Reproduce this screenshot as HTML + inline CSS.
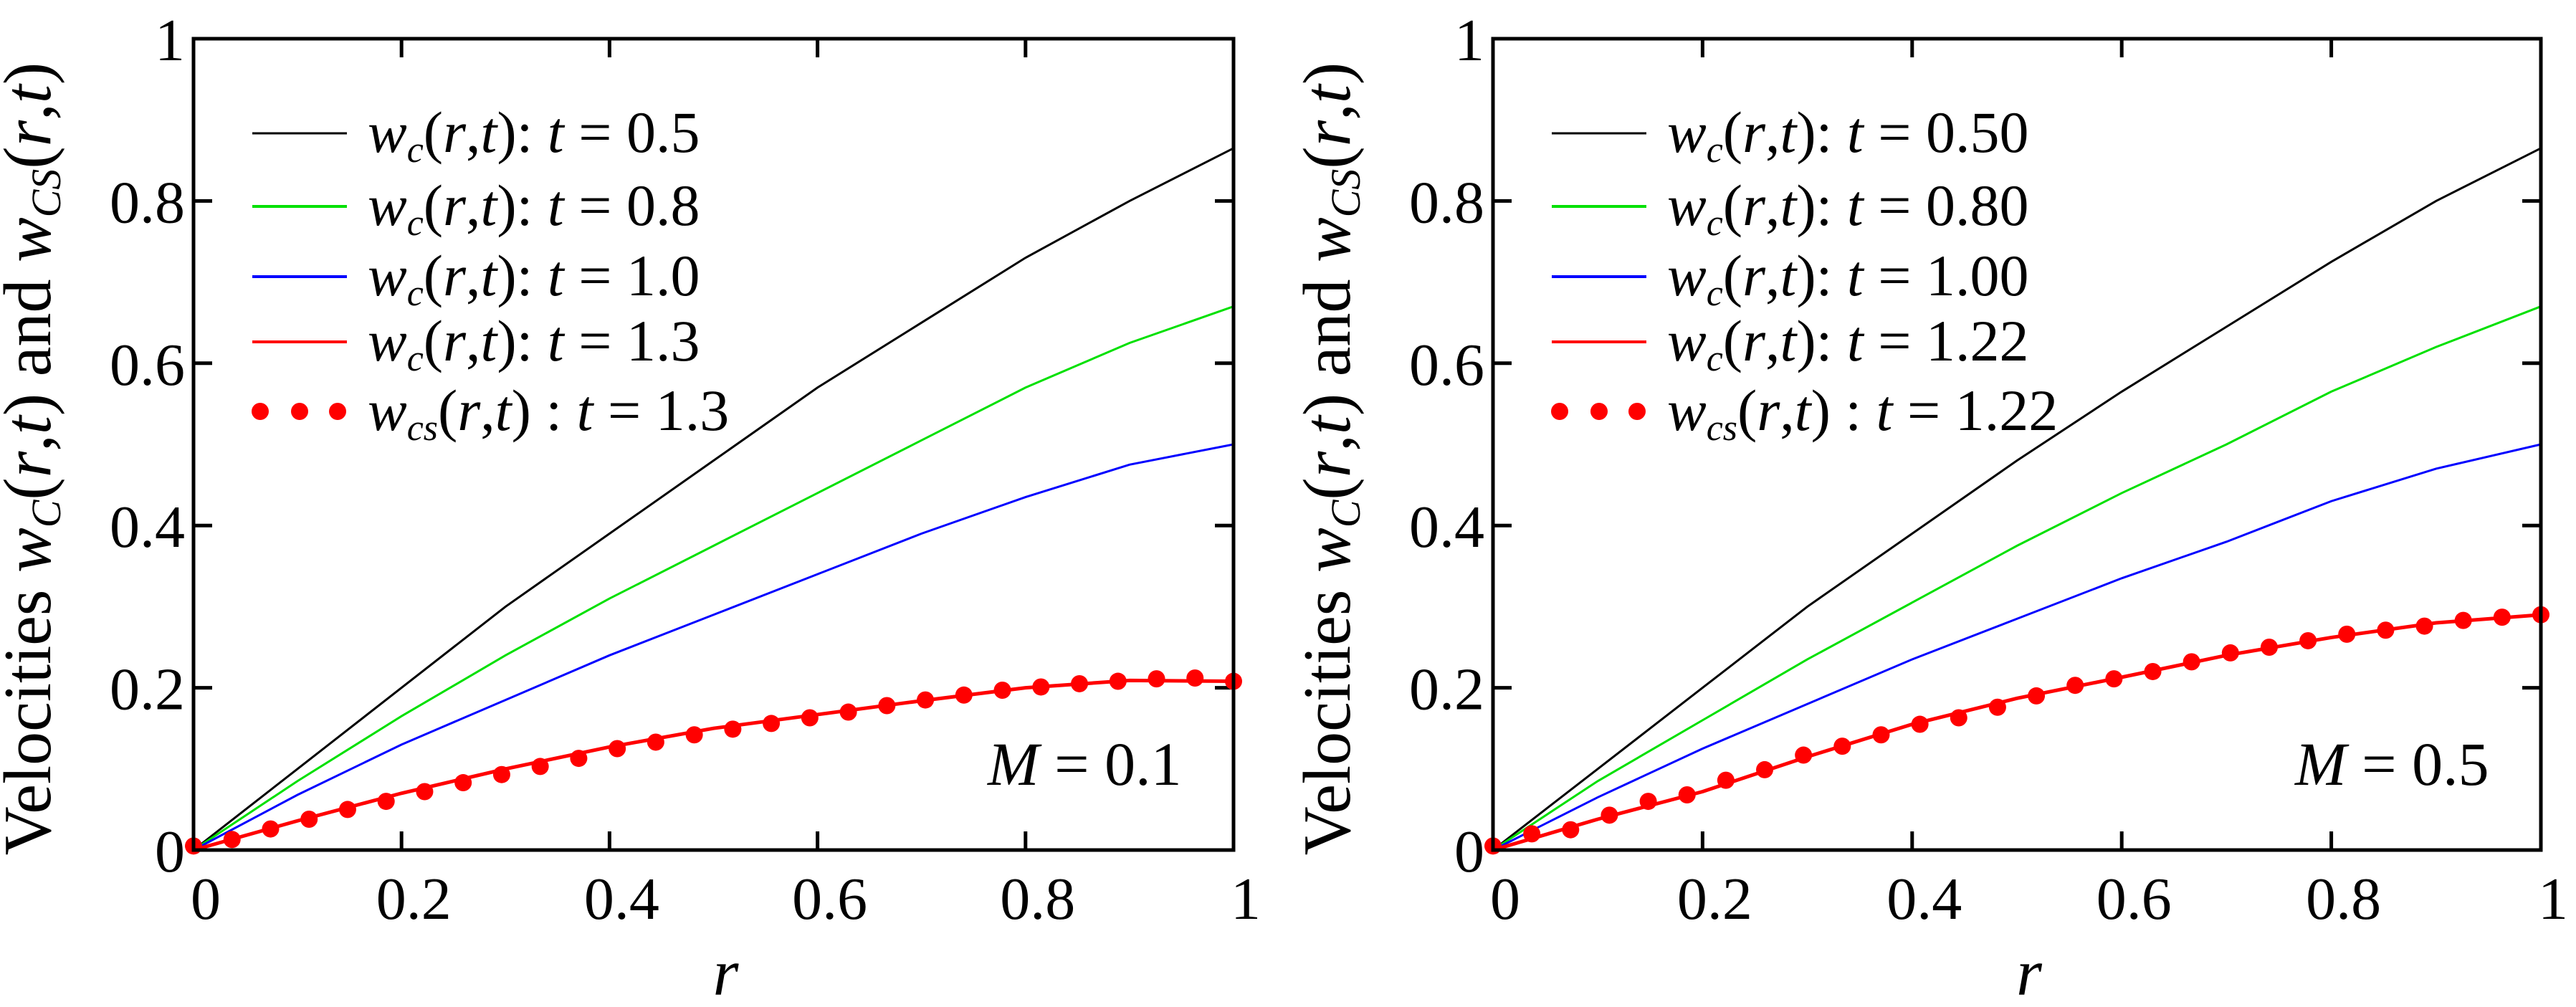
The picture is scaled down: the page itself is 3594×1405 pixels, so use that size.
<!DOCTYPE html>
<html><head><meta charset="utf-8"><style>
html,body{margin:0;padding:0;background:#fff}
svg{display:block}
svg text, svg tspan{font-family:"Liberation Serif","Noto Serif CJK SC","DejaVu Serif",serif !important;fill:#000}
</style></head><body>
<svg id="s" width="3594" height="1405" viewBox="0 0 3594 1405" xmlns="http://www.w3.org/2000/svg" style="font-family:'Liberation Serif','Noto Serif CJK SC','DejaVu Serif',serif"></svg>
<script>
const rGrid=[0,0.1,0.2,0.3,0.4,0.5,0.6,0.7,0.8,0.9,1.0];
const ticks=[0,0.2,0.4,0.6,0.8,1];
const tickLabels=["0","0.2","0.4","0.6","0.8","1"];
// left panel M=0.1
const L_black=[0,0.1,0.2,0.3,0.39,0.48,0.57,0.65,0.73,0.80,0.865];
const L_green=[0,0.085,0.165,0.24,0.31,0.375,0.44,0.505,0.57,0.625,0.67];
const L_blue=[0,0.068,0.13,0.185,0.24,0.29,0.34,0.39,0.435,0.475,0.50];
const L_red=[0,0.036,0.07,0.1,0.127,0.15,0.167,0.184,0.2,0.209,0.208];
const L_dots=[0.005,0.013,0.026,0.038,0.05,0.06,0.072,0.083,0.093,0.103,0.113,0.125,0.133,0.142,0.149,0.156,0.163,0.17,0.178,0.185,0.191,0.197,0.201,0.205,0.208,0.211,0.212,0.208];
// right panel M=0.5
const R_black=[0,0.1,0.2,0.3,0.39,0.48,0.565,0.645,0.725,0.8,0.865];
const R_green=[0,0.085,0.16,0.235,0.305,0.375,0.44,0.5,0.565,0.62,0.67];
const R_blue=[0,0.065,0.125,0.18,0.235,0.285,0.335,0.38,0.43,0.47,0.50];
const R_red=[0,0.038,0.072,0.115,0.155,0.187,0.213,0.24,0.262,0.28,0.29];
const R_dots=[0.005,0.02,0.025,0.043,0.06,0.068,0.086,0.099,0.117,0.128,0.142,0.155,0.163,0.176,0.19,0.203,0.211,0.22,0.232,0.243,0.25,0.258,0.266,0.271,0.276,0.283,0.287,0.29];
const L_leg=["0.5","0.8","1.0","1.3","1.3"];
const R_leg=["0.50","0.80","1.00","1.22","1.22"];
const NS="http://www.w3.org/2000/svg";
const FF="'Liberation Serif','Noto Serif CJK SC','DejaVu Serif',serif";
const svg=document.getElementById('s');
function mk(tag,attrs,parent){const e=document.createElementNS(NS,tag);for(const k in attrs)e.setAttribute(k,attrs[k]);if(tag==='text')e.style.fontFamily=FF;(parent||svg).appendChild(e);return e;}
const Y0=1186,Y1=54;
function panel(id,x0,x1,black,green,blue,red,dots,leg,mLabel,sub){
  const g=mk('g',{});
  
  
  const X=v=>x0+v*(x1-x0), Y=v=>Y0-v*(Y0-Y1);
  ticks.forEach((t,i)=>{
    const tk=mk('path',{d:`M${X(t)} ${Y0}v-26M${X(t)} ${Y1}v26M${x0} ${Y(t)}h26M${x1} ${Y(t)}h-26`,stroke:'#000','stroke-width':5},g);
    
    
    const xl=mk('text',{x:X(t)+17,y:1282,'font-size':84,'text-anchor':'middle'},g);xl.textContent=tickLabels[i];
    
    
    const yl=mk('text',{x:x0-12,y:Y(t)+30,'font-size':84,'text-anchor':'end'},g);yl.textContent=tickLabels[i];
    
    
  });
  const series=[[black,'#000',3],[green,'#00e000',3],[blue,'#0000ff',3],[red,'#ff0000',5]];
  series.forEach(([arr,c,w],k)=>{
    const p=mk('polyline',{points:arr.map((v,i)=>X(rGrid[i])+','+Y(v)).join(' '),fill:'none',stroke:c,'stroke-width':w},g);
    
    
  });
  dots.forEach((v,i)=>{
    const d=mk('circle',{cx:X(i/(dots.length-1)),cy:Y(v),r:12,fill:'#ff0000'},g);
    
    
  });
  const fr=mk('rect',{x:x0,y:Y1,width:x1-x0,height:Y0-Y1,fill:'none',stroke:'#000','stroke-width':5},g);
  
  
  const rows=[186,288,386,477,574], cols=['#000','#00e000','#0000ff','#ff0000','#ff0000'];
  rows.forEach((y,i)=>{
    const lg=mk('g',{},g);
    
    
    if(i<4) mk('line',{x1:x0+82,x2:x0+214,y1:y,y2:y,stroke:cols[i],'stroke-width':i==0?3:4},lg);
    else [93,148,201].forEach(dx=>mk('circle',{cx:x0+dx,cy:y,r:12,fill:'#ff0000'},lg));
    const t=mk('text',{x:x0+243,y:y+26,'font-size':82},lg);
    const s=(i<4)?'c':sub;
    t.innerHTML=`<tspan font-style="italic">w</tspan><tspan font-style="italic" font-size="52" dy="14">${s}</tspan><tspan dy="-14">(</tspan><tspan font-style="italic">r</tspan>,<tspan font-style="italic">t</tspan>)${i<4?':':' :'} <tspan font-style="italic">t</tspan> = ${leg[i]}`;
  });
  const m=mk('text',{x:x1-343,y:1095,'font-size':86},g);
  m.innerHTML=`<tspan font-style="italic">M</tspan> = ${mLabel}`;
  
  
  const xt=mk('text',{x:(x0+x1)/2+17,y:1388,'font-size':92,'font-style':'italic','text-anchor':'middle'},g);xt.textContent='r';
  
  
  const yt=mk('text',{x:0,y:0,'font-size':94,'text-anchor':'middle',transform:`translate(${x0-200},${(Y0+Y1)/2+20}) rotate(-90)`},g);
  yt.innerHTML=`Velocities <tspan font-style="italic">w</tspan><tspan font-style="italic" font-size="58" dy="14">C</tspan><tspan dy="-14">(</tspan><tspan font-style="italic">r</tspan>,<tspan font-style="italic">t</tspan>) and <tspan font-style="italic">w</tspan><tspan font-style="italic" font-size="58" dy="14">CS</tspan><tspan dy="-14">(</tspan><tspan font-style="italic">r</tspan>,<tspan font-style="italic">t</tspan>)`;
  
  
}
panel('panel-m01',270,1721,L_black,L_green,L_blue,L_red,L_dots,L_leg,'0.1','cs');
panel('panel-m05',2083,3545,R_black,R_green,R_blue,R_red,R_dots,R_leg,'0.5','cs');
</script>
</body></html>
